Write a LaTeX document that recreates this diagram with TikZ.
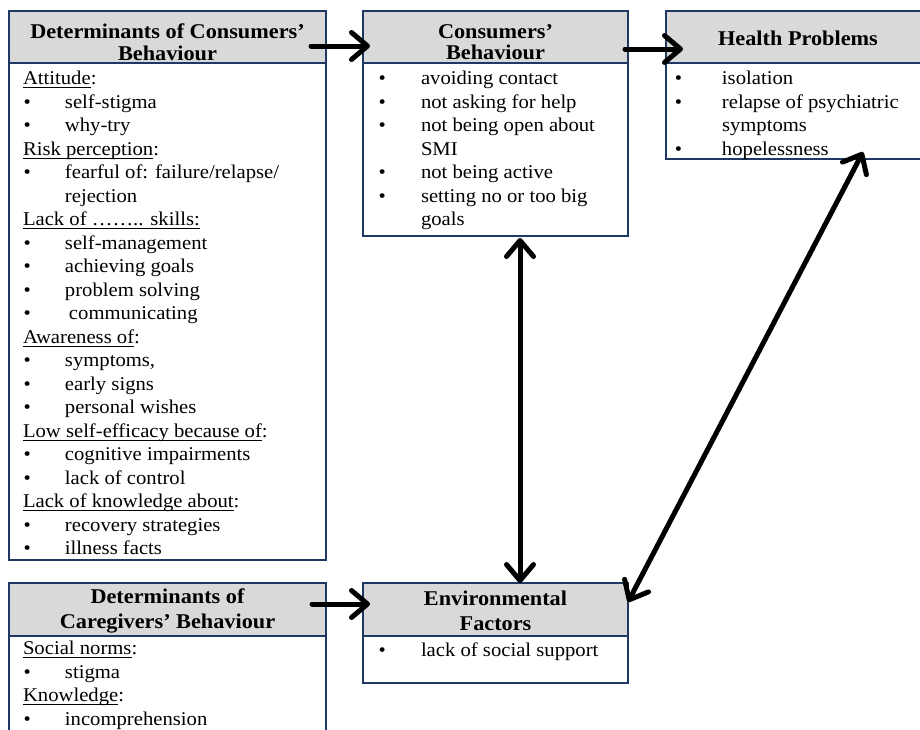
\documentclass[tikz,border=0pt]{standalone}
\usepackage{fontspec}
\setmainfont{Liberation Serif}[FakeStretch=1.06]
\usetikzlibrary{arrows.meta}
\definecolor{bxline}{HTML}{1F3864}
\definecolor{hdrfill}{HTML}{D9D9D9}
\newlength\bo
\newlength\bt
\newlength\so
\newcommand{\setind}[3]{\global\bo=#1\relax\global\bt=#2\relax\global\so=#3\relax}
\newcommand{\ulx}[1]{\setbox0\hbox{#1}\rlap{\rule[-3.2pt]{\wd0}{0.9pt}}\box0}
\newcommand{\bitem}[1]{\hspace*{\bo}\makebox[\bt][l]{•}#1}
\newcommand{\cont}[1]{\hspace*{\bo}\hspace*{\bt}#1}
\newcommand{\subh}[1]{\hspace*{\so}#1}
\begin{document}
\begin{tikzpicture}[x=1pt, y=-1pt,
  hdr/.style={draw=bxline, line width=1.8pt, fill=hdrfill, outer sep=0pt, inner sep=0pt},
  htxt/.style={inner sep=0pt, outer sep=0pt, align=center, font=\fontsize{21}{#1}\selectfont\bfseries},
  htxt/.default=22,
  bodyb/.style={draw=bxline, line width=1.8pt, fill=white, outer sep=0pt, inner sep=0pt},
  btxt/.style={anchor=north west, inner sep=0pt, outer sep=0pt, align=left,
    font=\fontsize{19.5}{23.5}\selectfont},
  arr/.style={line width=5pt, line cap=round, -{Straight Barb[length=16pt, width=27pt, round]}},
  darr/.style={line width=5pt, line cap=round, {Straight Barb[length=16pt, width=27pt, round]}-{Straight Barb[length=16pt, width=27pt, round]}}
]
\useasboundingbox (0,0) rectangle (920,729);
\clip (0,0) rectangle (920,729);

% Determinants of Consumers' Behaviour
\node[bodyb, minimum width=317pt, minimum height=497pt, anchor=north] (dcB) at (167.5,63) {};
\node[hdr, minimum width=317pt, minimum height=52pt] (dcH) at (167.5,37) {};
\node[htxt=21.5] (dcHt) at ([yshift=-5pt]dcH.center) {Determinants of Consumers’\\Behaviour};
\setind{14.5pt}{41.5pt}{14pt}
\node[btxt] (dcT) at (9,68.5) {%
\strut\subh{\ulx{Attitude}:}\\
\bitem{self-stigma}\\
\bitem{why-try}\\
\subh{\ulx{Risk perception}:}\\
\bitem{fearful of: failure/relapse/}\\
\cont{rejection}\\
\subh{\ulx{Lack of …….. skills:}}\\
\bitem{self-management}\\
\bitem{achieving goals}\\
\bitem{problem solving}\\
\bitem{\hspace*{4pt}communicating}\\
\subh{\ulx{Awareness of}:}\\
\bitem{symptoms,}\\
\bitem{early signs}\\
\bitem{personal wishes}\\
\subh{\ulx{Low self-efficacy because of}:}\\
\bitem{cognitive impairments}\\
\bitem{lack of control}\\
\subh{\ulx{Lack of knowledge about}:}\\
\bitem{recovery strategies}\\
\bitem{illness facts}};

% Consumers' Behaviour
\node[bodyb, minimum width=265pt, minimum height=173pt, anchor=north] (cbB) at (495.5,63) {};
\node[hdr, minimum width=265pt, minimum height=52pt] (cbH) at (495.5,37) {};
\node[htxt=21.5] (cbHt) at ([yshift=-5pt]cbH.center) {Consumers’\\Behaviour};
\setind{15.6pt}{42.4pt}{0pt}
\node[btxt] (cbT) at (363,68.5) {%
\strut\bitem{avoiding contact}\\
\bitem{not asking for help}\\
\bitem{not being open about}\\
\cont{SMI}\\
\bitem{not being active}\\
\bitem{setting no or too big}\\
\cont{goals}};

% Health Problems
\node[bodyb, minimum width=264pt, minimum height=96pt, anchor=north] (hpB) at (798,63) {};
\node[hdr, minimum width=264pt, minimum height=52pt] (hpH) at (798,37) {};
\node[htxt] (hpHt) at ([yshift=-1pt]hpH.center) {Health Problems};
\setind{8.9pt}{47.1pt}{0pt}
\node[btxt] (hpT) at (666,68.5) {%
\strut\bitem{isolation}\\
\bitem{relapse of psychiatric}\\
\cont{symptoms}\\
\bitem{hopelessness}};

% Determinants of Caregivers' Behaviour
\node[bodyb, minimum width=317pt, minimum height=124pt, anchor=north] (cgB) at (167.5,636) {};
\node[hdr, minimum width=317pt, minimum height=53pt] (cgH) at (167.5,609.5) {};
\node[htxt=25] (cgHt) at ([yshift=-1pt]cgH.center) {Determinants of\\Caregivers’ Behaviour};
\setind{14.5pt}{41.5pt}{14pt}
\node[btxt] (cgT) at (9,638.5) {%
\strut\subh{\ulx{Social norms}:}\\
\bitem{stigma}\\
\subh{\ulx{Knowledge}:}\\
\bitem{incomprehension}};

% Environmental Factors
\node[bodyb, minimum width=265pt, minimum height=47pt, anchor=north] (envB) at (495.5,636) {};
\node[hdr, minimum width=265pt, minimum height=53pt] (envH) at (495.5,609.5) {};
\node[htxt=25] (envHt) at ([yshift=-1pt]envH.center) {Environmental\\Factors};
\setind{15.6pt}{42.4pt}{0pt}
\node[btxt] (envT) at (363,640.5) {%
\strut\bitem{lack of social support}};

% Connectors
\draw[arr] ([shift={(-15,9)}]dcH.east) -- ([shift={(7,9)}]cbH.west);
\draw[arr] ([shift={(-3,12)}]cbH.east) -- ([shift={(17,12)}]hpH.west);
\draw[arr] ([shift={(-14,-5.5)}]cgH.east) -- ([shift={(7,-5.5)}]envH.west);
\draw[darr] ([shift={(24.5,2)}]cbB.south) -- ([shift={(24.5,0)}]envH.north);
\draw[darr] ([shift={(0,-7.5)}]envH.east) -- ([shift={(65,-7)}]hpB.south);
\end{tikzpicture}
\end{document}
